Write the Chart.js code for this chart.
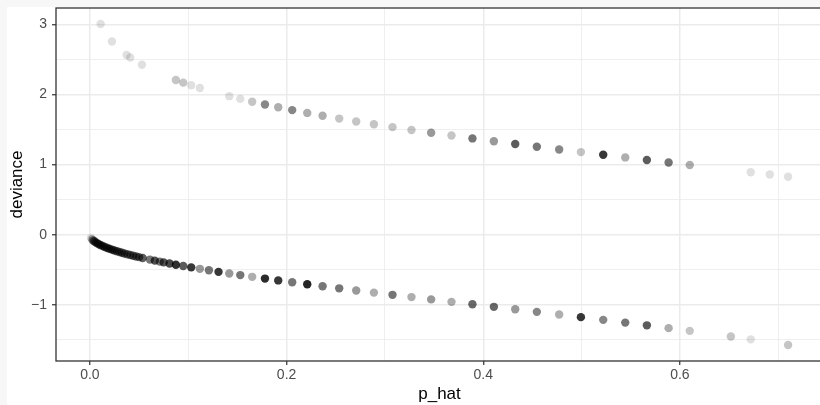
<!DOCTYPE html>
<html>
<head>
<meta charset="utf-8">
<script src="https://cdn.jsdelivr.net/npm/chart.js@4.4.1/dist/chart.umd.min.js"></script>
<style>
html, body { margin: 0; padding: 0; background: #f7f7f7; overflow: hidden; }
#wrap { position: absolute; left: 7px; top: 7px; width: 817px; height: 398px; background: #fff; }
</style>
</head>
<body>
<div id="wrap"><canvas id="dev" width="817" height="398"></canvas></div>
<script>
// observations with y = 1 (upper branch)
const pHatHi = [0.0109, 0.0224, 0.0373, 0.041, 0.0529, 0.0874, 0.0949, 0.103, 0.1118, 0.1417,
  0.1529, 0.165, 0.178, 0.1915, 0.2057, 0.221, 0.2366, 0.2535, 0.2708, 0.2888,
  0.3077, 0.327, 0.347, 0.3677, 0.389, 0.4108, 0.4325, 0.4545, 0.4772, 0.4993,
  0.522, 0.5444, 0.5664, 0.5885, 0.61, 0.672, 0.6914, 0.71];
const devHi = [3.006, 2.756, 2.565, 2.528, 2.425, 2.208, 2.17, 2.132, 2.093, 1.977,
  1.938, 1.898, 1.858, 1.818, 1.778, 1.738, 1.698, 1.657, 1.616, 1.576,
  1.535, 1.495, 1.455, 1.415, 1.374, 1.334, 1.295, 1.256, 1.216, 1.179,
  1.14, 1.103, 1.066, 1.03, 0.994, 0.892, 0.859, 0.828];
const countHi = [1, 1, 1, 1, 1, 2, 2, 1, 1, 1,
  1, 2, 5, 3, 5, 3, 3, 2, 2, 2,
  2, 2, 4, 2, 6, 4, 8, 6, 5, 2,
  12, 3, 8, 6, 3, 1, 1, 1];

// observations with y = 0 (lower branch)
const pHatLo = [0.001, 0.002, 0.003, 0.004, 0.005, 0.0065, 0.008, 0.0095, 0.011, 0.013,
  0.015, 0.017, 0.019, 0.021, 0.023, 0.025, 0.0275, 0.03, 0.0325, 0.035,
  0.038, 0.041, 0.044, 0.047, 0.05, 0.0536, 0.061, 0.066, 0.071, 0.075,
  0.081, 0.0874, 0.0949, 0.103, 0.1118, 0.121, 0.1308, 0.1417, 0.1529, 0.165,
  0.178, 0.1915, 0.2057, 0.221, 0.2366, 0.2535, 0.2708, 0.2888, 0.3077, 0.327,
  0.347, 0.3677, 0.389, 0.4108, 0.4325, 0.4545, 0.4772, 0.4993, 0.522, 0.5444,
  0.5664, 0.5885, 0.61, 0.6518, 0.672, 0.71];
const devLo = [-0.045, -0.063, -0.078, -0.09, -0.1, -0.114, -0.127, -0.138, -0.149, -0.162,
  -0.174, -0.185, -0.196, -0.206, -0.216, -0.225, -0.236, -0.247, -0.257, -0.267,
  -0.278, -0.289, -0.3, -0.31, -0.32, -0.332, -0.355, -0.37, -0.384, -0.395,
  -0.411, -0.428, -0.447, -0.466, -0.487, -0.508, -0.53, -0.553, -0.576, -0.601,
  -0.626, -0.652, -0.679, -0.707, -0.735, -0.765, -0.795, -0.826, -0.858, -0.89,
  -0.923, -0.958, -0.993, -1.029, -1.064, -1.101, -1.139, -1.176, -1.215, -1.254,
  -1.293, -1.333, -1.372, -1.453, -1.493, -1.574];
const countLo = [1, 2, 4, 5, 6, 6, 7, 7, 7, 7,
  7, 7, 7, 7, 7, 7, 7, 7, 7, 7,
  7, 7, 7, 7, 7, 8, 6, 9, 6, 9,
  10, 13, 8, 12, 4, 6, 12, 4, 6, 3,
  14, 12, 6, 15, 6, 6, 4, 3, 6, 3,
  4, 3, 7, 7, 4, 5, 3, 12, 5, 6,
  8, 3, 2, 2, 1, 2];

const xTicks = [0, 0.1, 0.2, 0.3, 0.4, 0.5, 0.6, 0.7];
const yTicks = [-1.5, -1, -0.5, 0, 0.5, 1, 1.5, 2, 2.5, 3];

// stacked points with alpha 0.12 each
const shade = n => 'rgba(0,0,0,' + (1 - Math.pow(0.88, n)).toFixed(3) + ')';
const pts = (xs, ys) => xs.map((x, i) => ({ x: x, y: ys[i] }));

const isMajorX = v => Math.abs(v * 5 - Math.round(v * 5)) < 1e-6;
const isMajorY = v => Math.abs(v - Math.round(v)) < 1e-6;

const panelBorder = {
  id: 'panelBorder',
  afterDraw(chart) {
    const { ctx, chartArea: a } = chart;
    ctx.save();
    ctx.strokeStyle = '#333333';
    ctx.lineWidth = 1.3;
    ctx.strokeRect(a.left, a.top, a.right - a.left, a.bottom - a.top);
    ctx.restore();
  }
};

const font = '"Liberation Sans", Arial, sans-serif';

new Chart(document.getElementById('dev'), {
  type: 'scatter',
  data: {
    datasets: [
      {
        data: pts(pHatHi, devHi),
        pointBackgroundColor: countHi.map(shade),
      },
      {
        data: pts(pHatLo, devLo),
        pointBackgroundColor: countLo.map(shade),
      }
    ]
  },
  options: {
    responsive: false,
    animation: false,
    devicePixelRatio: 1,
    layout: { autoPadding: false, padding: { top: 1, right: 1, left: 0, bottom: 0 } },
    elements: { point: { radius: 4.2, hoverRadius: 4.2, borderWidth: 0 } },
    plugins: { legend: { display: false }, tooltip: { enabled: false } },
    scales: {
      x: {
        type: 'linear',
        min: -0.0345,
        max: 0.7455,
        afterBuildTicks: s => { s.ticks = xTicks.map(v => ({ value: v })); },
        afterFit: s => { s.height = 44; s.paddingLeft = 0; s.paddingRight = 0; },
        border: { display: false },
        grid: {
          color: '#ebebeb',
          lineWidth: c => isMajorX(c.tick.value) ? 1.5 : 0.8,
          tickColor: c => isMajorX(c.tick.value) ? '#333333' : 'rgba(0,0,0,0)',
          tickLength: 4,
          tickWidth: 1.2
        },
        ticks: {
          autoSkip: false,
          maxRotation: 0,
          padding: 2,
          color: '#4d4d4d',
          font: { family: font, size: 14 },
          callback: v => isMajorX(v) ? v.toFixed(1) : ''
        },
        title: {
          display: true,
          text: 'p_hat',
          color: '#000',
          font: { family: font, size: 17 },
          padding: { top: 0, bottom: 0 }
        }
      },
      y: {
        type: 'linear',
        min: -1.802,
        max: 3.235,
        afterBuildTicks: s => { s.ticks = yTicks.map(v => ({ value: v })); },
        afterFit: s => { s.width = 49; s.paddingTop = 0; s.paddingBottom = 0; },
        border: { display: false },
        grid: {
          color: '#ebebeb',
          lineWidth: c => isMajorY(c.tick.value) ? 1.5 : 0.8,
          tickColor: c => isMajorY(c.tick.value) ? '#333333' : 'rgba(0,0,0,0)',
          tickLength: 4,
          tickWidth: 1.2
        },
        ticks: {
          autoSkip: false,
          padding: 5,
          color: '#4d4d4d',
          font: { family: font, size: 14 },
          callback: v => isMajorY(v) ? (v < 0 ? '\u2212' + Math.abs(v) : String(v)) : ''
        },
        title: {
          display: true,
          text: 'deviance',
          color: '#000',
          font: { family: font, size: 17 },
          padding: { top: 0, bottom: 2 }
        }
      }
    }
  },
  plugins: [panelBorder]
});
</script>
</body>
</html>
